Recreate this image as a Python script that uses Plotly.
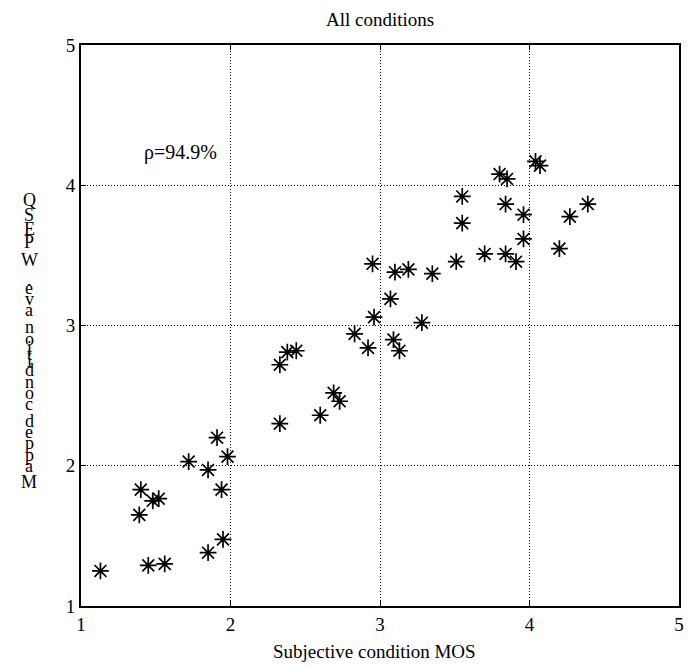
import plotly.graph_objects as go

# Subjective condition MOS (x) and mapped condition WPESQ (y)
mos = [1.13, 1.45, 1.56, 1.85, 1.95, 1.39, 1.40, 1.48, 1.52, 1.94,
       1.72, 1.85, 1.98, 1.91, 2.33, 2.38, 2.44, 2.60, 2.69, 2.73,
       2.83, 2.92, 2.96, 2.95, 3.07, 3.10, 3.19, 3.35, 3.09, 3.13,
       3.28, 3.55, 3.55, 3.51, 3.70, 3.84, 3.91, 3.96, 3.96, 3.84,
       3.80, 3.85, 4.04, 4.07, 4.20, 4.27, 4.39, 2.33]
wpesq = [1.25, 1.29, 1.30, 1.38, 1.475, 1.65, 1.83, 1.75, 1.765, 1.83,
         2.03, 1.97, 2.065, 2.20, 2.72, 2.81, 2.82, 2.36, 2.52, 2.46,
         2.94, 2.84, 3.06, 3.44, 3.19, 3.38, 3.40, 3.37, 2.90, 2.82,
         3.02, 3.92, 3.73, 3.455, 3.51, 3.51, 3.455, 3.617, 3.79, 3.866,
         4.08, 4.045, 4.17, 4.14, 3.548, 3.776, 3.866, 2.30]

x_ticks = [1, 2, 3, 4, 5]
y_ticks = [1, 2, 3, 4, 5]
title_text = "All conditions"
x_label = "Subjective condition MOS"
y_label = "Mapped condition ave. WPESQ"
rho_text = "ρ=94.9%"

FONT = "Liberation Serif, Times New Roman, serif"

# Times-style advance widths (per 1000 em) used to space the stacked y-label glyphs
ADV = {"M": 889, "a": 444, "p": 500, "e": 444, "d": 500, " ": 250, "c": 444,
       "o": 500, "n": 500, "i": 278, "t": 278, "v": 500, ".": 250, "W": 944,
       "P": 556, "E": 611, "S": 556, "Q": 722}

fig = go.Figure()
fig.add_trace(go.Scatter(
    x=mos, y=wpesq, mode="markers",
    marker=dict(symbol="asterisk-open", size=14, color="black",
                line=dict(color="black", width=1.7)),
    showlegend=False, hoverinfo="x+y"))

axis_common = dict(
    showgrid=True, gridcolor="black", gridwidth=1, griddash="1px,2px",
    showline=True, linecolor="black", linewidth=2, mirror="allticks",
    ticks="inside", ticklen=5, tickcolor="black", tickwidth=1,
    zeroline=False, tickfont=dict(family=FONT, size=19, color="black"),
)

fig.update_xaxes(range=[1, 5], tickvals=x_ticks, **axis_common)
fig.update_yaxes(range=[1, 5], tickvals=y_ticks, **axis_common)

annotations = []
plot_top, plot_bottom, plot_left, plot_w = 45, 606, 81, 603
plot_h = plot_bottom - plot_top

# Vertical stacked y label: upright glyphs, reading bottom to top,
# spaced by their horizontal advance widths
em = 23.4          # px per em for spacing
start_px = 492     # bottom of the first glyph's advance box
offset = 0.0
for ch in y_label:
    w = ADV.get(ch, 500) / 1000.0 * em
    center = start_px - offset - w / 2
    offset += w
    if ch == " ":
        continue
    annotations.append(dict(
        text=ch, xref="paper", yref="paper",
        x=(29 - plot_left) / plot_w, y=(plot_bottom - center) / plot_h,
        xanchor="center", yanchor="middle", showarrow=False,
        font=dict(family=FONT, size=18, color="black")))

annotations.append(dict(
    text=rho_text, xref="x", yref="y", x=1.41, y=4.23,
    xanchor="left", yanchor="middle", showarrow=False,
    font=dict(family=FONT, size=20, color="black")))

annotations.append(dict(
    text=title_text, xref="paper", yref="paper", x=0.5,
    y=(plot_bottom - 20) / plot_h, xanchor="center", yanchor="middle",
    showarrow=False, font=dict(family=FONT, size=19, color="black")))

annotations.append(dict(
    text=x_label, xref="paper", yref="paper", x=(377 - plot_left) / plot_w,
    y=(plot_bottom - 651) / plot_h, xanchor="center", yanchor="middle",
    showarrow=False, font=dict(family=FONT, size=19, color="black")))

fig.update_layout(
    width=689, height=665,
    margin=dict(l=81, r=5, t=45, b=59),
    paper_bgcolor="white", plot_bgcolor="white",
    annotations=annotations,
)

fig.write_html("out.html")
